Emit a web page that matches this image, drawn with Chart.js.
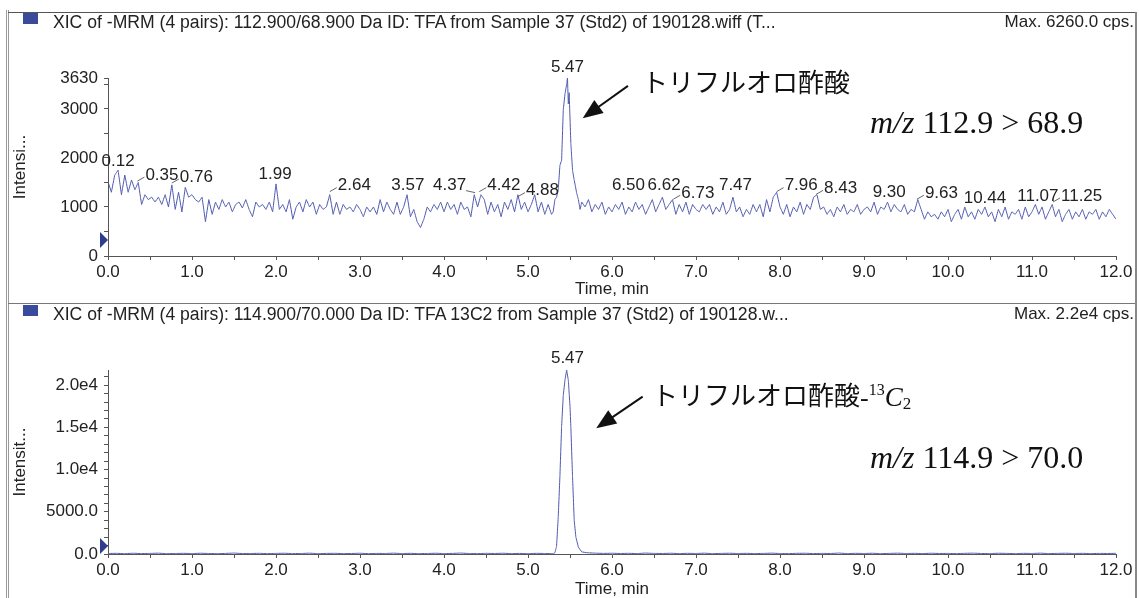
<!DOCTYPE html>
<html>
<head>
<meta charset="utf-8">
<script src="https://cdn.jsdelivr.net/npm/chart.js@4.4.1/dist/chart.umd.min.js"></script>
<style>
  html, body { margin: 0; padding: 0; background: #fff; overflow: hidden; }
  #page { position: relative; width: 1139px; height: 598px; background: #fff;
          font-family: "Liberation Sans", Arial, sans-serif; color: #222; }
  canvas { position: absolute; left: 0; }
  .line { position: absolute; z-index: 2; }
  .hdr { position: absolute; font-size: 17px; line-height: 20px; white-space: nowrap; z-index: 3; }
  .ttl { font-size: 17.6px; }
  .sq { position: absolute; left: 23px; width: 15px; height: 11px; background: #3b4b9c; z-index: 3; }
</style>
</head>
<body>
<div id="page">
  <canvas id="c1" width="1139" height="300" style="top:0"></canvas>
  <canvas id="c2" width="1139" height="297" style="top:303px"></canvas>

  <div class="line" style="left:6px;top:10px;width:1px;height:588px;background:#9a9a9a"></div>
  <div class="line" style="left:8px;top:10px;width:1px;height:588px;background:#9a9a9a"></div>
  <div class="line" style="left:8px;top:12px;width:1129px;height:1px;background:#555"></div>
  <div class="line" style="left:8px;top:303px;width:1129px;height:1px;background:#777"></div>
  <div class="line" style="left:1135px;top:12px;width:2px;height:586px;background:#888"></div>

  <div class="sq" style="top:13px"></div>
  <div class="hdr ttl" style="left:53px;top:12px">XIC of -MRM (4 pairs): 112.900/68.900 Da ID: TFA from Sample 37 (Std2) of 190128.wiff (T...</div>
  <div class="hdr" style="right:5px;top:12px">Max. 6260.0 cps.</div>

  <div class="sq" style="top:305px"></div>
  <div class="hdr ttl" style="left:53px;top:304px">XIC of -MRM (4 pairs): 114.900/70.000 Da ID: TFA 13C2 from Sample 37 (Std2) of 190128.w...</div>
  <div class="hdr" style="right:5px;top:304px">Max. 2.2e4 cps.</div>
</div>
<script>
// ---- data ----
// top trace, 112.9 > 68.9 : sampled every 0.04 min before and after the peak
var topStepMin = 0.04;
var topValuesA = [
  1516,1300,1650,1750,1250,1650,1300,1550,1350,1500,1050,1250,1150,1200,1100,1200,1050,1250,1000,1450,950,1300,900,1400,1200,
  1250,1150,1100,1200,700,1150,850,1100,950,1150,1000,1100,900,1050,1100,980,1150,950,800,1100,1000,1050,950,1100,900,
  1470,950,1050,900,1150,750,1000,1100,900,1150,1000,1100,850,1050,950,1000,1250,850,1100,850,1050,950,1000,900,1050,
  950,800,1000,900,1000,850,1150,900,1100,950,850,1100,850,1000,1250,800,950,700,580,750,1000,900,1050,950,1100,
  900,1100,950,1050,850,1100,950,1000,800,1250,1000,1250,1150,850,1100,900,1050,800,1100,950,1150,900,1250,950,1100,
  900,1050,1250,900,1100,850,1050,850
];                                   // 0.00 .. 5.28 min
var topPeakTimes  = [5.30,5.32,5.34,5.36,5.38,5.40,5.42,5.44,5.46,5.47,5.48,5.49,5.51,5.53,5.55,5.58,5.60,5.62,5.64];
var topPeakValues = [900,1150,1200,1350,1850,1950,2980,3300,3500,3630,3100,3330,2300,1750,1550,1280,1150,950,1100];
var topValuesB = [
  1000,1150,900,1050,950,1100,850,1000,900,
  1050,950,1100,850,1000,900,1100,950,1050,850,1000,1150,900,1050,1200,950,1050,1150,850,1050,900,1100,850,1050,950,
  900,1050,950,1050,850,1000,900,1100,850,950,1200,900,1000,800,950,850,1050,900,1050,800,1150,900,1200,1300,1000,
  850,1050,800,1000,900,1100,850,1050,950,1200,1250,950,1000,850,950,800,1000,900,1050,850,950,900,1050,850,950,
  1000,900,1100,850,1000,950,1100,900,1050,950,900,1050,850,950,900,1150,950,750,900,800,850,750,900,800,950,
  700,850,950,750,1000,800,900,750,950,850,1000,800,900,700,950,800,1000,750,900,850,950,750,1000,800,900,
  1050,850,1000,750,900,1050,800,950,700,850,950,750,900,800,950,750,900,850,950,750,900,800,950,850,750
];                                   // 5.68 .. 12.00 min

// bottom trace, 114.9 > 70.0 : sampled every 0.1 min away from the peak
var bottomStepMin = 0.1;
var bottomValuesA = [
  60,80,40,90,50,70,100,40,60,80,50,90,60,40,70,110,50,60,80,40,70,90,50,60,100,40,
  70,80,50,60,90,40,70,60,100,50,80,40,60,90,50,70,110,60,40,80,60,90,50,70,40,80,60
];                                   // 0.0 .. 5.2 min
var bottomPeakTimes  = [5.26,5.30,5.32,5.34,5.36,5.38,5.40,5.42,5.44,5.46,5.48,5.50,5.51,5.53,5.55,5.57,5.60,5.64,5.70];
var bottomPeakValues = [50,40,150,900,4400,9200,15100,18800,20600,21800,20600,17500,15100,9200,4000,2000,800,250,150];
var bottomValuesB = [
  100,70,90,60,80,50,110,70,60,90,50,80,60,100,40,70,90,60,80,50,70,100,60,40,80,90,50,70,60,110,
  50,80,60,90,40,70,100,60,80,50,90,60,70,40,80,100,60,50,90,70,40,80,60,100,50,70,90,60,80,50,70,60,80
];                                   // 5.8 .. 12.0 min

// retention-time labels (value = height of the label, side = placement)
var topLabelTimes  = [0.12,0.35,0.76,1.99,2.64,3.57,4.37,4.42,4.88,5.47,6.50,6.62,6.73,7.47,7.96,8.43,9.30,9.63,10.44,11.07,11.25];
var topLabelLevels = [1940,1650,1610,1670,1435,1435,1435,1435,1333,3840,1435,1435,1280,1435,1435,1380,1290,1280,1177,1224,1224];
var topLabelSides  = ['c','r','r','c','r','c','l','r','r','c','L','c','r','c','r','r','c','r','c','c','r'];
var bottomLabelTimes  = [5.47];
var bottomLabelLevels = [23200];
var bottomLabelSides  = ['c'];

// axis ticks
var xMajorTicks = [0,1,2,3,4,5,6,7,8,9,10,11,12];
var topYTicks = [0,500,1000,1500,2000,2500,3000,3500,3630];
var topYLabelled = [0,1000,2000,3000,3630];
var bottomYTicks = [0,1000,2000,3000,4000,5000,6000,7000,8000,9000,10000,11000,12000,13000,14000,15000,16000,17000,18000,19000,20000,21000];
var bottomYLabels = {0:'0.0', 5000:'5000.0', 10000:'1.0e4', 15000:'1.5e4', 20000:'2.0e4'};

// ---- drawing ----
var LINE = '#4d58ae';
var AXIS = '#555';
var FONT = '"Liberation Sans", Arial, sans-serif';
Chart.defaults.font.family = FONT;
Chart.defaults.font.size = 17;
Chart.defaults.color = '#222';

function series(start, step, vals) {
  return vals.map(function (v, i) { return { x: +(start + i * step).toFixed(2), y: v }; });
}
function pairs(ts, vs) {
  return ts.map(function (t, i) { return { x: t, y: vs[i] }; });
}

var annot = {
  id: 'annot',
  afterDraw: function (chart, args, o) {
    var ctx = chart.ctx, xs = chart.scales.x, ys = chart.scales.y, ca = chart.chartArea;
    function P(t, v) { return [xs.getPixelForValue(t), ys.getPixelForValue(v)]; }
    ctx.save();

    // retention time labels
    ctx.font = '17px ' + FONT;
    ctx.fillStyle = '#222';
    ctx.strokeStyle = '#666';
    ctx.lineWidth = 1;
    ctx.textBaseline = 'middle';
    function leader(x1, y1, x2, y2) { ctx.beginPath(); ctx.moveTo(x1, y1); ctx.lineTo(x2, y2); ctx.stroke(); }
    o.times.forEach(function (t, i) {
      var p = P(t, o.levels[i]), px = p[0], py = p[1], s = o.sides[i], txt = t.toFixed(2);
      if (s === 'c') { ctx.textAlign = 'center'; ctx.fillText(txt, px, py); }
      else if (s === 'r') { leader(px, py + 6, px + 7, py + 2); ctx.textAlign = 'left'; ctx.fillText(txt, px + 8, py); }
      else { if (s === 'l') leader(px - 9, py + 5, px, py + 7); ctx.textAlign = 'right'; ctx.fillText(txt, px - 9, py); }
    });

    // marker triangle at the left of the y axis
    var ty = ca.bottom - o.triUp;
    ctx.fillStyle = '#2f3c8f';
    ctx.beginPath();
    ctx.moveTo(ca.left - 8, ty - 8); ctx.lineTo(ca.left, ty); ctx.lineTo(ca.left - 8, ty + 8);
    ctx.closePath(); ctx.fill();

    // arrow
    var a = P(o.arrow.tail[0], o.arrow.tail[1]), b = P(o.arrow.tip[0], o.arrow.tip[1]);
    var dx = b[0] - a[0], dy = b[1] - a[1], len = Math.sqrt(dx * dx + dy * dy), ux = dx / len, uy = dy / len;
    var hl = 20, hw = 8, bx = b[0] - ux * hl, by = b[1] - uy * hl;
    ctx.strokeStyle = '#111'; ctx.fillStyle = '#111'; ctx.lineWidth = 2;
    leader(a[0], a[1], bx + ux * 2, by + uy * 2);
    ctx.beginPath();
    ctx.moveTo(b[0], b[1]);
    ctx.lineTo(bx - uy * hw, by + ux * hw);
    ctx.lineTo(bx + uy * hw, by - ux * hw);
    ctx.closePath(); ctx.fill();

    // compound name
    var n = P(o.name.at[0], o.name.at[1]);
    ctx.fillStyle = '#111';
    ctx.textAlign = 'left';
    ctx.textBaseline = 'middle';
    ctx.font = '26px "Noto Sans CJK JP", sans-serif';
    ctx.fillText(o.name.text, n[0], n[1]);
    if (o.name.label13C) {
      var cx = n[0] + ctx.measureText(o.name.text).width, base = n[1] + 11;
      ctx.textBaseline = 'alphabetic';
      ctx.font = '26px "Liberation Serif", serif';
      ctx.fillText('-', cx, base); cx += ctx.measureText('-').width;
      ctx.font = '16px "Liberation Serif", serif';
      ctx.fillText('13', cx, base - 11); cx += ctx.measureText('13').width;
      ctx.font = 'italic 27px "Liberation Serif", serif';
      ctx.fillText('C', cx, base); cx += ctx.measureText('C').width;
      ctx.font = '17px "Liberation Serif", serif';
      ctx.fillText('2', cx, base + 3);
    }

    // transition
    var m = P(o.mz.at[0], o.mz.at[1]);
    ctx.textBaseline = 'alphabetic';
    ctx.font = 'italic 32px "Liberation Serif", serif';
    ctx.fillText('m/z', m[0], m[1]);
    var w = ctx.measureText('m/z').width;
    ctx.font = '32px "Liberation Serif", serif';
    ctx.fillText(' ' + o.mz.text, m[0] + w, m[1]);

    ctx.restore();
  }
};

function makeChart(id, cfg) {
  return new Chart(document.getElementById(id), {
    type: 'line',
    data: { datasets: [{ data: cfg.points, borderColor: LINE, borderWidth: 1, pointRadius: 0,
                         tension: 0.000001, fill: false }] },
    options: {
      responsive: false, animation: false, devicePixelRatio: 1,
      layout: { padding: { left: 0, right: 23, top: cfg.padTop, bottom: 0 } },
      plugins: { legend: { display: false }, tooltip: { enabled: false }, annot: cfg.annot },
      scales: {
        x: {
          type: 'linear', min: 0, max: 12,
          afterFit: function (s) { s.height = cfg.xHeight; },
          afterBuildTicks: function (s) {
            var t = [];
            xMajorTicks.forEach(function (v, i) { t.push({ value: v }); if (i < xMajorTicks.length - 1) t.push({ value: v + 0.5 }); });
            s.ticks = t;
          },
          ticks: { autoSkip: false, maxRotation: 0, padding: 2,
                   callback: function (v) { return xMajorTicks.indexOf(v) >= 0 ? v.toFixed(1) : ''; } },
          grid: { drawOnChartArea: false, drawTicks: true, tickLength: 4, color: AXIS },
          border: { color: AXIS },
          title: { display: true, text: 'Time, min', padding: 0, font: { size: 17 } }
        },
        y: {
          min: 0, max: cfg.yMax,
          afterFit: function (s) { s.width = 108; },
          afterBuildTicks: function (s) { s.ticks = cfg.yTicks.map(function (v) { return { value: v }; }); },
          ticks: { autoSkip: false, padding: 6, callback: cfg.yLabel },
          grid: { drawOnChartArea: false, drawTicks: true, tickLength: 4, color: AXIS },
          border: { color: AXIS },
          title: { display: true, text: cfg.yTitle, padding: { top: 10, bottom: 0 }, font: { size: 17 } }
        }
      }
    },
    plugins: [annot]
  });
}

var topPoints = series(0, topStepMin, topValuesA)
  .concat(pairs(topPeakTimes, topPeakValues))
  .concat(series(5.68, topStepMin, topValuesB));
var bottomPoints = series(0, bottomStepMin, bottomValuesA)
  .concat(pairs(bottomPeakTimes, bottomPeakValues))
  .concat(series(5.8, bottomStepMin, bottomValuesB));

makeChart('c1', {
  points: topPoints, padTop: 78, xHeight: 44, yMax: 3630, yTicks: topYTicks, yTitle: 'Intensi...',
  yLabel: function (v) { return topYLabelled.indexOf(v) >= 0 ? String(v) : ''; },
  annot: {
    times: topLabelTimes, levels: topLabelLevels, sides: topLabelSides, triUp: 16,
    arrow: { tail: [6.19, 3469], tip: [5.651, 2810] },
    name: { text: 'トリフルオロ酢酸', at: [6.357, 3551] },
    mz: { text: '112.9 > 68.9', at: [9.071, 2510] }
  }
});

makeChart('c2', {
  points: bottomPoints, padTop: 67, xHeight: 46, yMax: 21800, yTicks: bottomYTicks, yTitle: 'Intensit...',
  yLabel: function (v) { return bottomYLabels[v] !== undefined ? bottomYLabels[v] : ''; },
  annot: {
    times: bottomLabelTimes, levels: bottomLabelLevels, sides: bottomLabelSides, triUp: 8,
    arrow: { tail: [6.365, 18649], tip: [5.812, 14902] },
    name: { text: 'トリフルオロ酢酸', at: [6.476, 18850], label13C: true },
    mz: { text: '114.9 > 70.0', at: [9.071, 10195] }
  }
});
</script>
</body>
</html>
